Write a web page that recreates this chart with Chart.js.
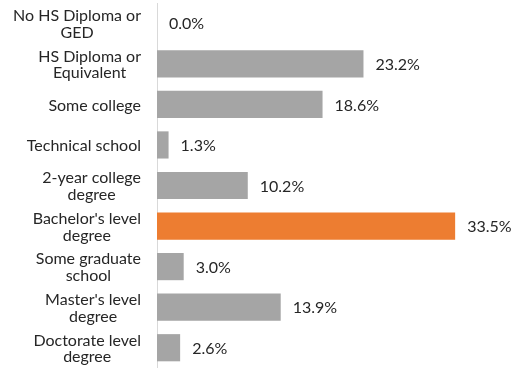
<!DOCTYPE html>
<html><head><meta charset="utf-8">
<script src="https://cdn.jsdelivr.net/npm/chart.js@4"></script>
<style>html,body{margin:0;padding:0;background:#fff}#wrap{width:513px;height:368px;position:relative}</style>
</head><body><div id="wrap"><canvas id="c"></canvas></div>
<script>
const categories = [
  ["No HS Diploma or","GED"],
  ["HS Diploma or","Equivalent"],
  ["Some college"],
  ["Technical school"],
  ["2-year college","degree"],
  ["Bachelor's level","degree"],
  ["Some graduate","school"],
  ["Master's level","degree"],
  ["Doctorate level","degree"]
];
const values = [0.0, 23.2, 18.6, 1.3, 10.2, 33.5, 3.0, 13.9, 2.6];
const highlightIndex = 5;
const grayColor = '#A5A5A5';
const orangeColor = '#ED7D31';

const textPlugin = {
  id: 'textPlugin',
  afterDatasetsDraw(chart) {
    const ctx = chart.ctx;
    const meta = chart.getDatasetMeta(0);
    const yScale = chart.scales.y;
    ctx.save();
    ctx.font = '16px Lato';
    ctx.fillStyle = '#262626';
    ctx.textBaseline = 'middle';
    // value labels
    ctx.textAlign = 'left';
    meta.data.forEach((bar, i) => {
      ctx.fillText(values[i].toFixed(1) + '%', bar.x + 12, bar.y + 1);
    });
    // category labels: block right-aligned, lines centered
    ctx.textAlign = 'center';
    const lineH = 16.7;
    const rightEdge = yScale.right - 16;
    categories.forEach((lines, i) => {
      const yc = yScale.getPixelForTick(i) + 1;
      const maxW = Math.max(...lines.map(l => ctx.measureText(l).width));
      const cx = rightEdge - maxW / 2;
      const top = yc - (lines.length - 1) * lineH / 2;
      lines.forEach((l, j) => ctx.fillText(l, cx, top + j * lineH));
    });
    ctx.restore();
  }
};

new Chart(document.getElementById('c'), {
  type: 'bar',
  data: {
    labels: categories.map(l => l.join(' ')),
    datasets: [{
      data: values,
      backgroundColor: values.map((v, i) => i === highlightIndex ? orangeColor : grayColor),
      categoryPercentage: 0.67,
      barPercentage: 1
    }]
  },
  options: {
    indexAxis: 'y',
    responsive: true,
    maintainAspectRatio: false,
    animation: false,
    layout: { padding: { top: 3, bottom: 0, left: 0, right: 0 } },
    plugins: { legend: { display: false }, tooltip: { enabled: false } },
    scales: {
      x: { display: false, min: 0, max: 40 },
      y: {
        grid: { display: false, drawTicks: false },
        border: { display: true, color: '#D9D9D9', width: 1 },
        ticks: { display: false },
        afterFit(scale) { scale.width = 157; scale.paddingTop = 0; scale.paddingBottom = 0; }
      }
    }
  },
  plugins: [textPlugin]
});
</script></body></html>
